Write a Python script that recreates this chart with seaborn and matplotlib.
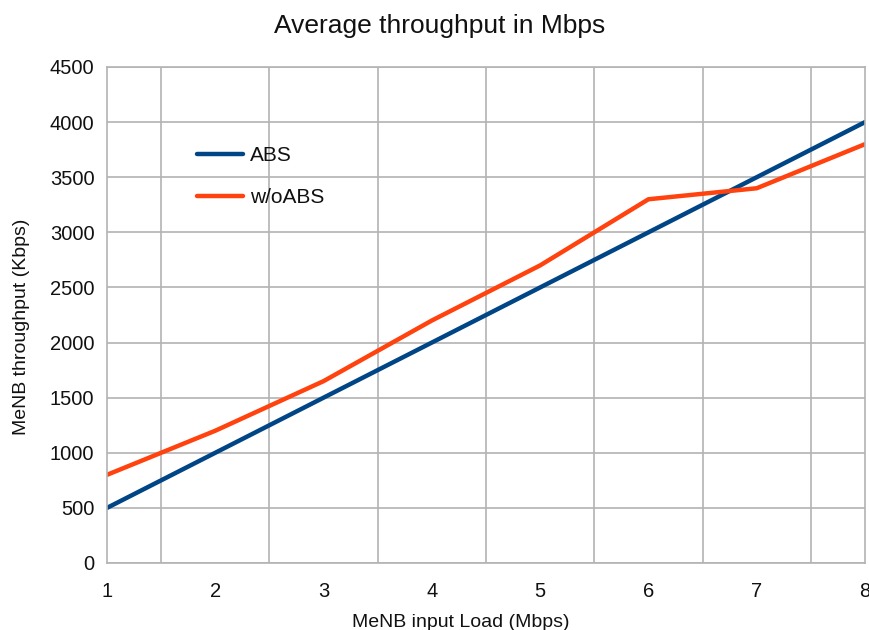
import matplotlib
matplotlib.use("Agg")
import matplotlib.pyplot as plt
import seaborn as sns
import pandas as pd
import numpy as np

load = [1, 2, 3, 4, 5, 6, 7, 8]
abs_vals = [500, 1000, 1500, 2000, 2500, 3000, 3500, 4000]
woabs_vals = [800, 1200, 1650, 2200, 2700, 3300, 3400, 3800]
series_names = ["ABS", "w/oABS"]
colors = ["#004586", "#ff420e"]

df = pd.DataFrame({
    "load": load * 2,
    "thr": abs_vals + woabs_vals,
    "series": [series_names[0]] * len(load) + [series_names[1]] * len(load),
})

sns.set_theme(style="white")
plt.rcParams['font.family'] = ['Liberation Sans', 'DejaVu Sans']
plt.rcParams['text.color'] = '#111111'
plt.rcParams['axes.labelcolor'] = '#111111'

fig = plt.figure(figsize=(8.7, 6.3), dpi=100)
ax = fig.add_axes([107/870, 1 - 563/630, (865-107)/870, (563-67)/630])

sns.lineplot(data=df, x="load", y="thr", hue="series", palette=colors,
             linewidth=3.2, ax=ax, legend=True)

ax.set_xlim(1, 8)
ax.set_ylim(0, 4500)
ax.set_xticks(load)
ax.set_xticks(np.arange(1.5, 8, 1.0), minor=True)
ax.set_yticks(np.arange(0, 4501, 500))
ax.grid(which="minor", axis="x", color="#b3b3b3", linewidth=1.2)
ax.grid(which="major", axis="y", color="#b3b3b3", linewidth=1.2)
ax.grid(which="major", axis="x", visible=False)
ax.set_axisbelow(True)
for s in ax.spines.values():
    s.set_color("#b3b3b3")
    s.set_linewidth(1.2)
ax.tick_params(axis="both", which="major", length=7.5, width=1.2, color="#b3b3b3",
               labelsize=14.5, labelcolor="#111111")
ax.tick_params(axis="y", which="major", pad=1.5)
ax.tick_params(axis="x", which="minor", length=0)
ax.tick_params(axis="x", which="major", pad=6)

ax.set_xlabel("MeNB input Load (Mbps)", fontsize=14)
ax.set_ylabel("MeNB throughput (Kbps)", fontsize=14)
ax.xaxis.set_label_coords((461-107)/758, (563-614)/496)
ax.yaxis.set_label_coords((30-107)/758, (563-327)/496)
fig.suptitle("Average throughput in Mbps", fontsize=19, x=440/870,
             y=1 - 14/630, va="top")

ax.legend(title=None, frameon=False, loc="upper left",
          bbox_to_anchor=((197-107)/758, (563-146)/496), fontsize=15,
          handlelength=2.2, handletextpad=0.35, labelspacing=1.1,
          borderpad=0, borderaxespad=0)

fig.savefig("out.png", dpi=100)
